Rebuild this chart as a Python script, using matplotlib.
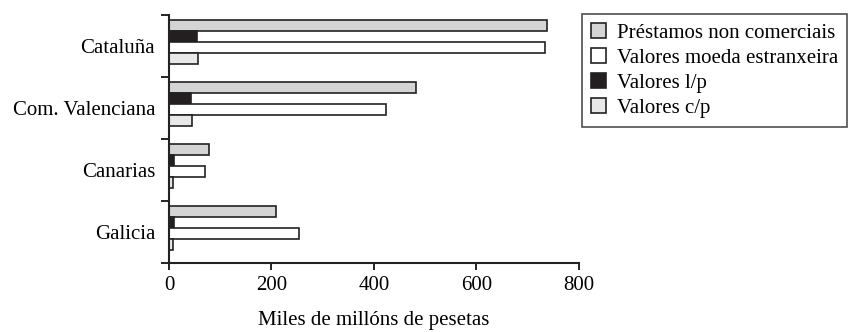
import matplotlib
matplotlib.use("Agg")
import matplotlib.pyplot as plt
import numpy as np

categories = ["Cataluña", "Com. Valenciana", "Canarias", "Galicia"]
series_names = ["Préstamos non comerciais", "Valores l/p",
                "Valores moeda estranxeira", "Valores c/p"]
prestamos = [738, 483, 78, 209]
valores_lp = [54, 42, 9, 9]
valores_moeda = [734, 424, 70, 254]
valores_cp = [57, 45, 7, 8]
x_ticks = [0, 200, 400, 600, 800]
x_label = "Miles de millóns de pesetas"

plt.rcParams['font.family'] = ['Liberation Serif', 'DejaVu Serif']

colors = {"Préstamos non comerciais": "#d4d4d4",
          "Valores l/p": "#231f20",
          "Valores moeda estranxeira": "#ffffff",
          "Valores c/p": "#e8e8e8"}
series_vals = [prestamos, valores_lp, valores_moeda, valores_cp]

FS = 15
fig = plt.figure(figsize=(8.5, 3.32), dpi=100)
ax = fig.add_axes([169/850, 1-263/332, (578.7-169)/850, (263-15)/332])

bh = 0.18
off = 0.075
idx = np.arange(len(categories))
bars = {}
for j, (name, vals) in enumerate(zip(series_names, series_vals)):
    ypos = idx + off + bh*(j+0.5)
    b = ax.barh(ypos, vals, height=bh, color=colors[name], edgecolor="#222222",
                linewidth=1.2, label=name)
    bars[name] = b

ax.set_ylim(len(categories), 0)
ax.set_xlim(0, 800)
ax.set_yticks(np.arange(len(categories)+1))
ax.set_yticklabels([])
ax.set_yticks(idx + 0.5, minor=True)
ax.set_yticklabels(categories, minor=True, fontsize=FS)
ax.tick_params(axis='y', which='minor', length=0, pad=10)
ax.tick_params(axis='y', which='major', length=6, width=1.2, direction='out')
ax.set_xticks(x_ticks)
ax.set_xticklabels([str(t) for t in x_ticks], fontsize=FS)
ax.tick_params(axis='x', length=5, width=1.2, direction='out', pad=4)
ax.set_xlabel(x_label, fontsize=FS, labelpad=12)
for s in ['top', 'right']:
    ax.spines[s].set_visible(False)
for s in ['left', 'bottom']:
    ax.spines[s].set_linewidth(1.5)
    ax.spines[s].set_color("#222222")

order = ["Préstamos non comerciais", "Valores moeda estranxeira",
         "Valores l/p", "Valores c/p"]
leg = ax.legend([bars[n] for n in order], order, loc='upper left',
                bbox_to_anchor=(582/850, 1-14/332), bbox_transform=fig.transFigure,
                frameon=True, fancybox=False, edgecolor="#222222", fontsize=FS,
                handlelength=0.72, handleheight=0.72, handletextpad=0.5,
                labelspacing=0.25, borderpad=0.45, borderaxespad=0)
leg.get_frame().set_linewidth(1.2)

fig.savefig("out.png", dpi=100)
